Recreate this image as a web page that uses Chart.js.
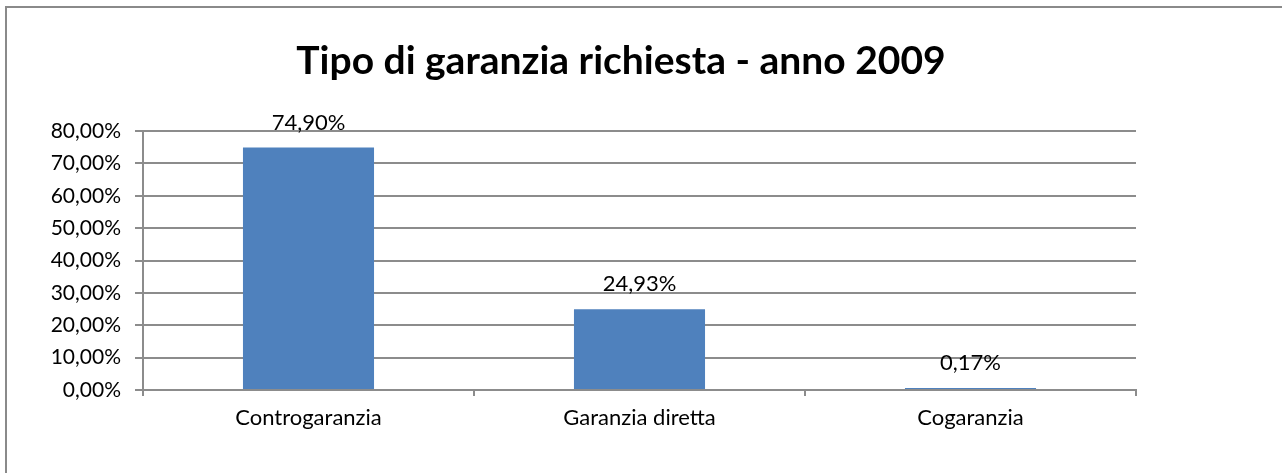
<!DOCTYPE html>
<html>
<head>
<meta charset="utf-8">
<script src="https://cdn.jsdelivr.net/npm/chart.js@4"></script>
<style>
  html, body { margin: 0; padding: 0; background: #fff; }
  #wrap { position: relative; width: 1282px; height: 473px; overflow: hidden; }
  #frame { position: absolute; left: 5px; top: 6px; width: 1400px; height: 600px; border: 2px solid #8a8a8a; box-sizing: border-box; }
  #myChart { position: absolute; left: 0; top: 0; }
</style>
</head>
<body>
<div id="wrap">
  <div id="frame"></div>
  <canvas id="myChart" width="1282" height="473"></canvas>
</div>
<script>
const titolo = 'Tipo di garanzia richiesta - anno 2009';
const categorie = ['Controgaranzia', 'Garanzia diretta', 'Cogaranzia'];
const valori = [74.90, 24.93, 0.17];
const yMax = 80;
const yStep = 10;

const fmt = v => v.toFixed(2).replace('.', ',') + '%';
const FONT = 'Lato, "Open Sans", sans-serif';

// etichette sopra le barre + titolo
const etichette = {
  id: 'etichette',
  afterDatasetsDraw(chart) {
    const ctx = chart.ctx;
    ctx.save();
    ctx.fillStyle = '#000';
    ctx.font = '22px ' + FONT;
    ctx.textAlign = 'center';
    ctx.textBaseline = 'middle';
    chart.getDatasetMeta(0).data.forEach((bar, i) => {
      ctx.fillText(fmt(valori[i]), bar.x, bar.y - 25);
    });
    ctx.font = 'bold 39px ' + FONT;
    ctx.fillText(titolo, 621, 61);
    ctx.restore();
  }
};

const ctx = document.getElementById('myChart');

new Chart(ctx, {
  type: 'bar',
  data: {
    labels: categorie,
    datasets: [{
      data: valori,
      backgroundColor: '#4F81BD',
      borderWidth: 0,
      minBarLength: 2,
      categoryPercentage: 1,
      barPercentage: 0.396
    }]
  },
  options: {
    responsive: false,
    animation: false,
    layout: { padding: { top: 131, right: 146, bottom: 0, left: 0 } },
    plugins: {
      legend: { display: false },
      title: { display: false },
      tooltip: { enabled: false }
    },
    scales: {
      y: {
        min: 0,
        max: yMax,
        afterFit: s => { s.width = 143; },
        ticks: {
          stepSize: yStep,
          color: '#000',
          font: { family: FONT, size: 21 },
          padding: 14,
          callback: v => fmt(v)
        },
        grid: { color: '#8c8c8c', lineWidth: 2, tickLength: 8 },
        border: { color: '#8c8c8c', width: 2 }
      },
      x: {
        afterFit: s => { s.height = 83; },
        ticks: {
          color: '#000',
          font: { family: FONT, size: 22 },
          padding: 9
        },
        grid: { drawOnChartArea: false, offset: true, color: '#8c8c8c', lineWidth: 2, tickLength: 6 },
        border: { color: '#8c8c8c', width: 2 }
      }
    }
  },
  plugins: [etichette]
});
</script>
</body>
</html>
